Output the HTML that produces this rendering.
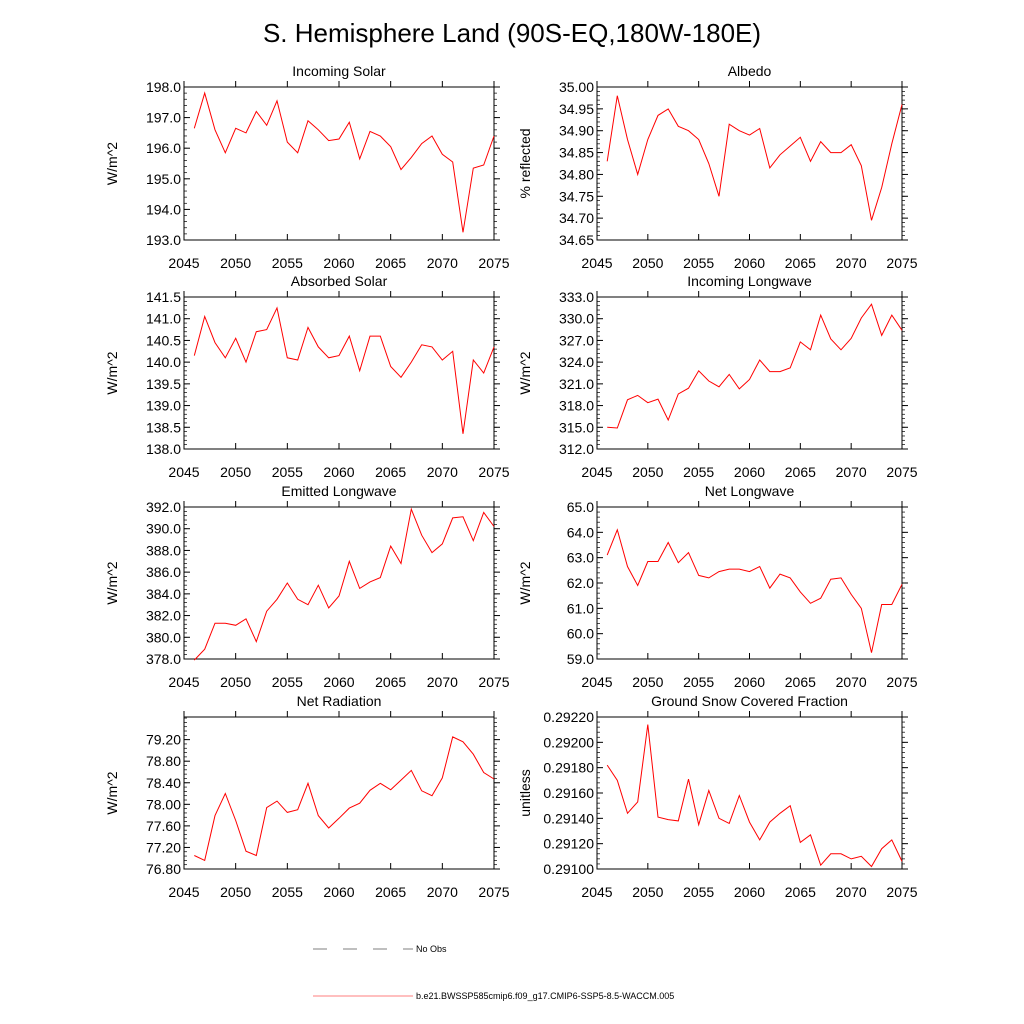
<!DOCTYPE html>
<html><head><meta charset="utf-8"><style>
body{margin:0;background:#fff}
svg{display:block;font-family:"Liberation Sans",sans-serif}
</style></head><body>
<svg id="c" width="1024" height="1024" viewBox="0 0 1024 1024">
<text x="512" y="42" font-size="26" text-anchor="middle">S. Hemisphere Land (90S-EQ,180W-180E)</text>
<g>
<line x1="313" y1="949" x2="413" y2="949" stroke="#000" stroke-width="0.6" stroke-dasharray="14,16"/>
<text x="416" y="952" font-size="9">No Obs</text>
<line x1="313" y1="996" x2="413" y2="996" stroke="red" stroke-width="0.6"/>
<text x="416" y="999" font-size="9">b.e21.BWSSP585cmip6.f09_g17.CMIP6-SSP5-8.5-WACCM.005</text>
</g>
</svg>
<script>
const years=[2046,2047,2048,2049,2050,2051,2052,2053,2054,2055,2056,2057,2058,2059,2060,2061,2062,2063,2064,2065,2066,2067,2068,2069,2070,2071,2072,2073,2074,2075];
const xTicks=[2045,2050,2055,2060,2065,2070,2075];
const incomingSolar=[196.65,197.8,196.6,195.85,196.65,196.5,197.2,196.75,197.55,196.2,195.85,196.9,196.6,196.25,196.3,196.85,195.65,196.55,196.4,196.05,195.3,195.7,196.15,196.4,195.8,195.55,193.25,195.35,195.45,196.4];
const albedo=[34.83,34.98,34.88,34.80,34.88,34.935,34.95,34.91,34.90,34.88,34.825,34.75,34.915,34.90,34.89,34.905,34.815,34.845,34.865,34.885,34.83,34.875,34.85,34.85,34.868,34.82,34.695,34.77,34.87,34.96];
const absorbedSolar=[140.15,141.05,140.45,140.1,140.55,140.0,140.7,140.75,141.25,140.1,140.05,140.8,140.35,140.1,140.15,140.6,139.8,140.6,140.6,139.9,139.65,140.0,140.4,140.35,140.05,140.25,138.35,140.05,139.75,140.35];
const incomingLW=[315.0,314.9,318.8,319.4,318.4,318.9,316.0,319.6,320.4,322.8,321.4,320.6,322.3,320.3,321.6,324.3,322.7,322.7,323.2,326.8,325.7,330.5,327.2,325.7,327.3,330.1,332.0,327.7,330.5,328.4];
const emittedLW=[377.9,378.9,381.3,381.3,381.1,381.7,379.6,382.4,383.5,385.0,383.5,383.0,384.8,382.7,383.8,387.0,384.5,385.1,385.5,388.4,386.8,391.8,389.4,387.8,388.6,391.0,391.1,388.9,391.5,390.2];
const netLW=[63.1,64.1,62.65,61.9,62.85,62.85,63.6,62.8,63.2,62.3,62.2,62.45,62.55,62.55,62.45,62.65,61.8,62.35,62.2,61.65,61.2,61.4,62.15,62.2,61.55,61.0,59.25,61.15,61.15,61.95];
const netRad=[77.05,76.96,77.79,78.20,77.70,77.13,77.05,77.94,78.06,77.85,77.90,78.39,77.79,77.56,77.74,77.93,78.02,78.26,78.39,78.27,78.45,78.63,78.25,78.16,78.49,79.25,79.16,78.93,78.59,78.47];
const snow=[0.29182,0.29170,0.29144,0.29153,0.29214,0.29141,0.29139,0.29138,0.29171,0.29135,0.29162,0.29140,0.29136,0.29158,0.29137,0.29123,0.29137,0.29144,0.29150,0.29121,0.29127,0.29103,0.29112,0.29112,0.29108,0.29110,0.29102,0.29116,0.29123,0.29106];

const panels=[
 {name:'incoming-solar',title:'Incoming Solar',unit:'W/m^2',data:incomingSolar,min:193,max:198,majorStep:1,minorStep:0.2,dec:1,x0:184,x1:494,y0:87,y1:240},
 {name:'albedo',title:'Albedo',unit:'% reflected',data:albedo,min:34.65,max:35.0,majorStep:0.05,minorStep:0.01,dec:2,x0:597,x1:902,y0:87,y1:240},
 {name:'absorbed-solar',title:'Absorbed Solar',unit:'W/m^2',data:absorbedSolar,min:138,max:141.5,majorStep:0.5,minorStep:0.1,dec:1,x0:184,x1:494,y0:297,y1:449},
 {name:'incoming-longwave',title:'Incoming Longwave',unit:'W/m^2',data:incomingLW,min:312,max:333,majorStep:3,minorStep:0.6,dec:1,x0:597,x1:902,y0:297,y1:449},
 {name:'emitted-longwave',title:'Emitted Longwave',unit:'W/m^2',data:emittedLW,min:378,max:392,majorStep:2,minorStep:0.4,dec:1,x0:184,x1:494,y0:507,y1:659},
 {name:'net-longwave',title:'Net Longwave',unit:'W/m^2',data:netLW,min:59,max:65,majorStep:1,minorStep:0.2,dec:1,x0:597,x1:902,y0:507,y1:659},
 {name:'net-radiation',title:'Net Radiation',unit:'W/m^2',data:netRad,min:76.8,max:79.62,labelMax:79.2,majorStep:0.4,minorStep:0.08,dec:2,x0:184,x1:494,y0:717,y1:869},
 {name:'ground-snow',title:'Ground Snow Covered Fraction',unit:'unitless',data:snow,min:0.2910,max:0.2922,majorStep:0.0002,minorStep:0.00004,dec:5,x0:597,x1:902,y0:717,y1:869}
];
const NS='http://www.w3.org/2000/svg';
const svg=document.getElementById('c');
function mk(tag,attrs,parent){const e=document.createElementNS(NS,tag);for(const k in attrs)e.setAttribute(k,attrs[k]);parent.appendChild(e);return e;}
panels.forEach(p=>{
 const g=mk('g',{},svg);
 
 
 const xs=v=>p.x0+(v-2045)/30*(p.x1-p.x0);
 const ys=v=>p.y1-(v-p.min)/(p.max-p.min)*(p.y1-p.y0);
 const t=mk('text',{x:(p.x0+p.x1)/2,y:p.y0-11,'font-size':14,'text-anchor':'middle'},g);
 t.textContent=p.title;
 
 
 const yt=mk('text',{transform:`translate(${p.x0-67},${(p.y0+p.y1)/2}) rotate(-90)`,'font-size':14,'text-anchor':'middle'},g);
 yt.textContent=p.unit;
 
 
 const nMin=Math.round((p.max-p.min)/p.minorStep);
 for(let i=0;i<=nMin;i++){const v=p.min+i*p.minorStep;if(v>p.max+1e-9)break;const y=ys(v);
  mk('line',{x1:p.x0,x2:p.x0+3,y1:y,y2:y,stroke:'#000','stroke-width':0.7},g);
  mk('line',{x1:p.x1,x2:p.x1+3,y1:y,y2:y,stroke:'#000','stroke-width':0.7},g);}
 const lm=p.labelMax!==undefined?p.labelMax:p.max;
 const nMaj=Math.round((lm-p.min)/p.majorStep);
 for(let i=0;i<=nMaj;i++){const v=p.min+i*p.majorStep;const y=ys(v);
  mk('line',{x1:p.x0,x2:p.x0+6,y1:y,y2:y,stroke:'#000','stroke-width':1},g);
  mk('line',{x1:p.x1,x2:p.x1+6,y1:y,y2:y,stroke:'#000','stroke-width':1},g);
  const l=mk('text',{x:p.x0-3,y:y+5,'font-size':14,'text-anchor':'end'},g);
  l.textContent=v.toFixed(p.dec);
  
  }
 xTicks.forEach(v=>{const x=xs(v);
  mk('line',{x1:x,x2:x,y1:p.y1-6,y2:p.y1,stroke:'#000','stroke-width':1},g);
  mk('line',{x1:x,x2:x,y1:p.y0-6,y2:p.y0,stroke:'#000','stroke-width':1},g);
  const l=mk('text',{x:x,y:p.y1+28,'font-size':14,'text-anchor':'middle'},g);
  l.textContent=v;
  
  });
 const fr=mk('rect',{x:p.x0,y:p.y0,width:p.x1-p.x0,height:p.y1-p.y0,fill:'none',stroke:'#000','stroke-width':1},g);
 
 
 const pts=p.data.map((v,i)=>xs(years[i]).toFixed(1)+','+ys(v).toFixed(1)).join(' ');
 const pl=mk('polyline',{points:pts,fill:'none',stroke:'red','stroke-width':1},g);
 
 
});
</script>
</body></html>
